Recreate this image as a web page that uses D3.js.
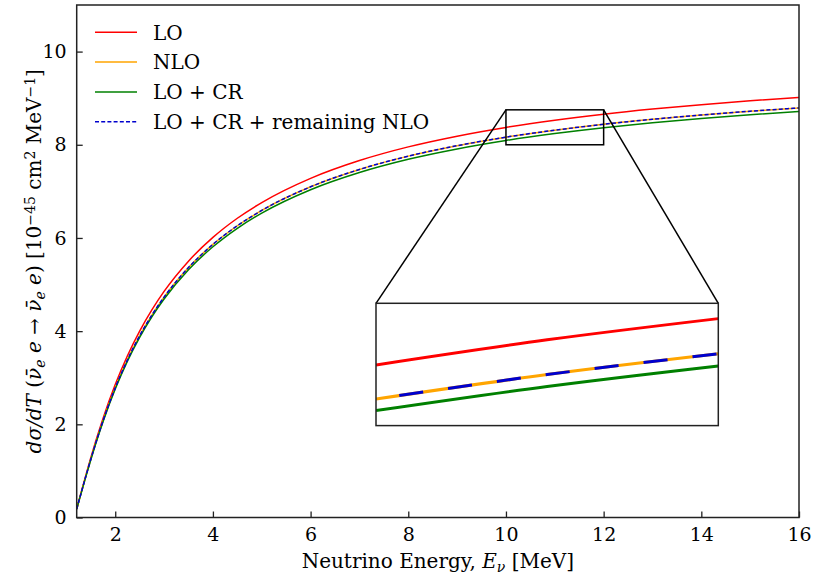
<!DOCTYPE html>
<html><head><meta charset="utf-8">
<script src="https://cdn.jsdelivr.net/npm/d3@7"></script>
<style>
body{margin:0;background:#fff;}
text{font-family:"DejaVu Serif",serif;fill:#000;}
</style></head>
<body><svg id="c" width="815" height="575"></svg>
<script>
// ---- data ----
const energy = [1.211,1.25,1.3,1.4,1.5,1.6,1.75,2,2.25,2.5,2.75,3,3.5,4,4.5,5,6,7,8,9,10,11,12,13,14,15,16];
const lo     = [0.185,0.337,0.531,0.914,1.283,1.635,2.127,2.853,3.471,4.001,4.456,4.852,5.502,6.012,6.423,6.760,7.280,7.662,7.955,8.185,8.372,8.526,8.656,8.766,8.861,8.944,9.016];
const nlo    = [0.180,0.329,0.518,0.891,1.251,1.594,2.074,2.782,3.384,3.901,4.345,4.731,5.364,5.862,6.262,6.591,7.098,7.470,7.756,7.980,8.163,8.313,8.440,8.547,8.639,8.720,8.791];
const loCr   = [0.179,0.326,0.513,0.883,1.240,1.580,2.056,2.757,3.355,3.867,4.307,4.689,5.318,5.811,6.208,6.534,7.036,7.405,7.689,7.911,8.092,8.240,8.366,8.472,8.564,8.644,8.714];
const loCrRem= [0.180,0.329,0.518,0.891,1.251,1.594,2.074,2.782,3.384,3.901,4.345,4.731,5.364,5.862,6.262,6.591,7.098,7.470,7.756,7.980,8.163,8.313,8.440,8.547,8.639,8.720,8.791];
const xTicks = [2,4,6,8,10,12,14,16];
const yTicks = [0,2,4,6,8,10];
const seriesNames = ["LO","NLO","LO + CR","LO + CR + remaining NLO"];
const zoomX = [10,12];
const zoomY = [8.0,8.75];

const series = [
  {name:seriesNames[0], vals:lo,      color:"#ff0000", dash:null},
  {name:seriesNames[1], vals:nlo,     color:"#ffa500", dash:null},
  {name:seriesNames[2], vals:loCr,    color:"#008000", dash:null},
  {name:seriesNames[3], vals:loCrRem, color:"#0000cd", dash:"4,2.2"}
];

const svg = d3.select("#c");
const L=76.7, R=799, T=5, B=517.5;
const x = d3.scaleLinear().domain([1.211,16]).range([L,R]);
const y = d3.scaleLinear().domain([0,11]).range([B,T]);

svg.append("defs").append("clipPath").attr("id","mainclip")
  .append("rect").attr("x",L).attr("y",T).attr("width",R-L).attr("height",B-T);

const pairs = vals => energy.map((e,i)=>[e,vals[i]]);
const line = (xs,ys)=>d3.line().x(d=>xs(d[0])).y(d=>ys(d[1])).curve(d3.curveMonotoneX);

const gMain = svg.append("g").attr("clip-path","url(#mainclip)");
series.forEach(s=>{
  gMain.append("path").datum(pairs(s.vals)).attr("d",line(x,y))
    .attr("fill","none").attr("stroke",s.color).attr("stroke-width",1.5)
    .attr("stroke-dasharray",s.dash);
});

// axes
const xAxis = d3.axisBottom(x).tickValues(xTicks).tickSizeInner(-6).tickSizeOuter(0).tickPadding(10);
const yAxis = d3.axisLeft(y).tickValues(yTicks).tickSizeInner(-6).tickSizeOuter(0).tickPadding(10);
const gx = svg.append("g").attr("transform",`translate(0,${B})`).call(xAxis);
const gy = svg.append("g").attr("transform",`translate(${L},0)`).call(yAxis);
[gx,gy].forEach(g=>{
  g.select(".domain").remove();
  g.selectAll(".tick line").attr("stroke","#222").attr("stroke-width",1.3);
  g.selectAll(".tick text").style("font-family","DejaVu Serif").style("font-size","19px").attr("fill","#000");
});
gx.selectAll(".tick text").attr("dy","0.72em");
// frame
svg.append("rect").attr("x",L).attr("y",T).attr("width",R-L).attr("height",B-T)
  .attr("fill","none").attr("stroke","#222").attr("stroke-width",1.5);

// zoom indicator
svg.append("rect").attr("x",x(zoomX[0])).attr("y",y(zoomY[1]))
  .attr("width",x(zoomX[1])-x(zoomX[0])).attr("height",y(zoomY[0])-y(zoomY[1]))
  .attr("fill","none").attr("stroke","#000").attr("stroke-width",1.5);

// inset
const iL=376, iR=718.3, iT=303.3, iB=425.6;
const xi = d3.scaleLinear().domain(zoomX).range([iL,iR]);
const yi = d3.scaleLinear().domain(zoomY).range([iB,iT]);
svg.append("line").attr("x1",x(zoomX[0])).attr("y1",y(zoomY[1])).attr("x2",iL).attr("y2",iT)
  .attr("stroke","#000").attr("stroke-width",1.5);
svg.append("line").attr("x1",x(zoomX[1])).attr("y1",y(zoomY[1])).attr("x2",iR).attr("y2",iT)
  .attr("stroke","#000").attr("stroke-width",1.5);
svg.select("defs").append("clipPath").attr("id","insetclip")
  .append("rect").attr("x",iL).attr("y",iT).attr("width",iR-iL).attr("height",iB-iT);
svg.append("rect").attr("x",iL).attr("y",iT).attr("width",iR-iL).attr("height",iB-iT).attr("fill","#fff");
const gIn = svg.append("g").attr("clip-path","url(#insetclip)");
series.forEach(s=>{
  const pts = pairs(s.vals).filter(d=>d[0]>=zoomX[0] && d[0]<=zoomX[1]);
  gIn.append("path").datum(pts).attr("d",line(xi,yi))
    .attr("fill","none").attr("stroke",s.color).attr("stroke-width",3)
    .attr("stroke-dasharray",s.dash?"24.2,25.1":null)
    .attr("stroke-dashoffset",s.dash?25.8:null);
});
svg.append("rect").attr("x",iL).attr("y",iT).attr("width",iR-iL).attr("height",iB-iT)
  .attr("fill","none").attr("stroke","#222").attr("stroke-width",1.5);

// legend
const lg = svg.append("g");
series.forEach((s,i)=>{
  const yy = 32.3 + i*29.8;
  lg.append("line").attr("x1",95).attr("x2",137).attr("y1",yy).attr("y2",yy)
    .attr("stroke",s.color).attr("stroke-width",1.5).attr("stroke-dasharray",s.dash);
  lg.append("text").attr("x",153).attr("y",yy).attr("dy","0.36em")
    .style("font-size","20px").text(s.name);
});

// x label
const xl = svg.append("text").attr("x",(L+R)/2).attr("y",568).attr("text-anchor","middle").style("font-size","20px");
xl.append("tspan").text("Neutrino Energy, ");
xl.append("tspan").attr("font-style","italic").text("E");
xl.append("tspan").attr("font-style","italic").attr("baseline-shift","-25%").style("font-size","14px").text("ν");
xl.append("tspan").text(" [MeV]");

// y label
const yl = svg.append("text").attr("transform",`translate(41,${(T+B)/2}) rotate(-90)`)
  .attr("text-anchor","middle").style("font-size","20px");
const parts = [
  ["dσ/dT",true,0],[" (",false,0],["ν̄",true,0],["e",true,-1],[" e",true,0],[" → ",false,0],
  ["ν̄",true,0],["e",true,-1],[" e",true,0],[") [10",false,0],["−45",false,1],[" cm",false,0],["2",false,1],[" MeV",false,0],["−1",false,1],["]",false,0]
];
parts.forEach(([t,it,sh])=>{
  const ts = yl.append("tspan").text(t);
  if(it) ts.attr("font-style","italic");
  if(sh<0) ts.attr("baseline-shift","-25%").style("font-size","14px");
  if(sh>0) ts.attr("baseline-shift","40%").style("font-size","14px");
});
</script></body></html>
